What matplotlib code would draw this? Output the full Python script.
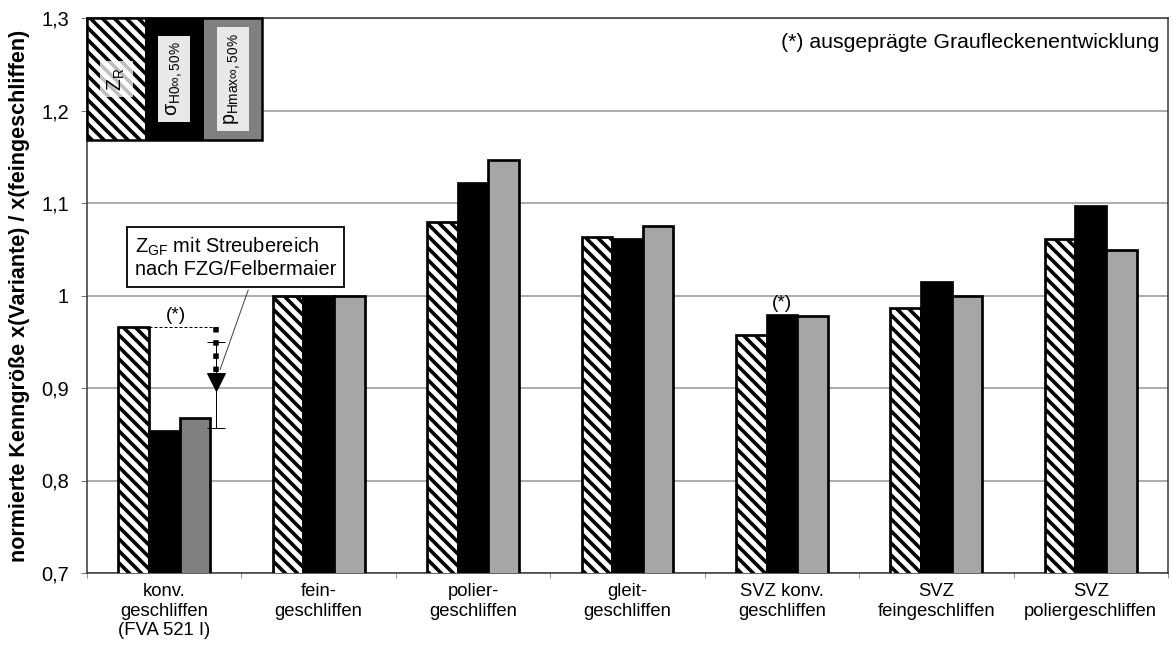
import numpy as np
import matplotlib as mplt
mplt.use("Agg")
import matplotlib.pyplot as plt
from matplotlib.patches import Rectangle

plt.rcParams["font.family"] = ["Liberation Sans", "DejaVu Sans"]
plt.rcParams["hatch.linewidth"] = 3.6
plt.rcParams["mathtext.default"] = "regular"

categories = [
    "konv.\ngeschliffen\n(FVA 521 I)",
    "fein-\ngeschliffen",
    "polier-\ngeschliffen",
    "gleit-\ngeschliffen",
    "SVZ konv.\ngeschliffen",
    "SVZ\nfeingeschliffen",
    "SVZ\npoliergeschliffen",
]
z_r = [0.966, 1.000, 1.080, 1.063, 0.957, 0.987, 1.061]
sigma_h0 = [0.854, 1.000, 1.122, 1.061, 0.979, 1.015, 1.097]
p_hmax = [0.868, 1.000, 1.146, 1.075, 0.978, 1.000, 1.049]
gray_colors = ["#808080", "#a6a6a6", "#a6a6a6", "#a6a6a6", "#a6a6a6", "#a6a6a6", "#a6a6a6"]

# Z_GF with scatter range (konv. geschliffen)
z_gf = 0.906
z_gf_lo = 0.857
z_gf_hi = 0.950

yticks = [0.7, 0.8, 0.9, 1.0, 1.1, 1.2, 1.3]
yticklabels = ["0,7", "0,8", "0,9", "1", "1,1", "1,2", "1,3"]

# dpi 72 -> sizes in points equal pixels
fig = plt.figure(figsize=(1172 / 72, 656 / 72), dpi=72)
ax = fig.add_axes([87 / 1172, 83 / 656, 1081 / 1172, 555 / 656])

x = np.arange(len(categories))
w = 0.198
ax.bar(x - w, z_r, w, color="white", edgecolor="black", hatch="\\\\", linewidth=2.7, zorder=3)
ax.bar(x, sigma_h0, w, color="black", edgecolor="black", linewidth=2.7, zorder=3)
ax.bar(x + w, p_hmax, w, color=gray_colors, edgecolor="black", linewidth=2.7, zorder=3)

ax.set_xlim(-0.5, len(categories) - 0.5)
ax.set_ylim(0.7, 1.3)
ax.set_yticks(yticks)
ax.set_yticklabels(yticklabels, fontsize=20)
ax.yaxis.grid(True, color="#999999", linewidth=1.6, zorder=0)
ax.set_axisbelow(True)
ax.set_xticks(x)
ax.set_xticklabels(categories, fontsize=18.5, linespacing=1.2)
ax.tick_params(axis="x", which="major", length=0, pad=10)
ax.set_xticks(np.arange(-0.5, len(categories)), minor=True)
ax.tick_params(axis="x", which="minor", length=5, color="#555555")
ax.tick_params(axis="y", length=6, color="#555555", pad=12)
for s in ax.spines.values():
    s.set_color("#333333")
    s.set_linewidth(1.5)
ax.set_ylabel("normierte Kenngröße x(Variante) / x(feingeschliffen)", fontsize=21.5,
              fontweight="bold", labelpad=11)

# scatter range annotation
ex = 0.337
ax.plot([-w + w / 2, ex], [z_r[0], z_r[0]], color="black", linewidth=1, dashes=(3, 2), zorder=4)
ax.errorbar([ex], [z_gf], yerr=[[z_gf - z_gf_lo], [z_gf_hi - z_gf]], fmt="none",
            ecolor="black", elinewidth=1, capsize=9, capthick=1, zorder=4)
ax.plot([ex, ex], [z_r[0], z_gf + 0.01], color="black", linewidth=5.5, dashes=(1, 1.4),
        solid_capstyle="butt", zorder=5)
ax.plot([ex], [z_gf], marker="v", markersize=18, color="black", zorder=6)
ax.text(0.075, z_r[0] + 0.003, "(*)", fontsize=19, ha="center", va="bottom")
ax.text(4, 0.979 + 0.003, "(*)", fontsize=19, ha="center", va="bottom")

ax.text(-0.19, 1.041, "Z$_{GF}$ mit Streubereich\nnach FZG/Felbermaier",
        fontsize=20, ha="left", va="center", linespacing=1.15, zorder=7,
        bbox=dict(boxstyle="square,pad=0.4", facecolor="white", edgecolor="black", linewidth=1.8))
ax.annotate("", xy=(ex + 0.025, z_gf + 0.014), xytext=(0.544, 1.006),
            arrowprops=dict(arrowstyle="-", color="#444444", linewidth=1, shrinkA=0, shrinkB=0),
            zorder=6)

ax.text(0.992, 0.955, "(*) ausgeprägte Graufleckenentwicklung", transform=ax.transAxes,
        fontsize=21.2, ha="right", va="center")

# legend panel
px0, pw, ph = 0.0, 58.3 / 1081, 122 / 555
py0 = 1 - ph
panels = [("white", "\\\\"), ("black", None), ("#808080", None)]
for i, (fc, hatch) in enumerate(panels):
    ax.add_patch(Rectangle((px0 + i * pw, py0), pw, ph, transform=ax.transAxes,
                           facecolor=fc, edgecolor="black", hatch=hatch, linewidth=0,
                           zorder=8, clip_on=False))
ax.add_patch(Rectangle((px0, py0), 3 * pw, ph, transform=ax.transAxes, facecolor="none",
                       edgecolor="black", linewidth=2.5, zorder=9, clip_on=False))
labels = ["Z$_R$", r"$\sigma_{H0\infty,50\%}$", r"p$_{Hmax\infty,50\%}$"]
for i, lab in enumerate(labels):
    box = dict(boxstyle="square,pad=0.3", facecolor="#e8e8e8" if i else "white",
               edgecolor="none", alpha=1 if i else 0.75)
    ax.text(px0 + (i + 0.5) * pw, py0 + ph / 2, lab, transform=ax.transAxes, rotation=90,
            fontsize=19.5, ha="center", va="center", bbox=box, zorder=10)

fig.savefig("out.png", dpi=72)
